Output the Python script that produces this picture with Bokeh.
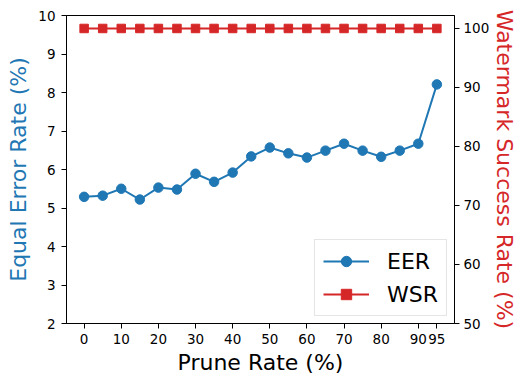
from bokeh.plotting import figure
from bokeh.models import Range1d, LinearAxis, FixedTicker, Legend, LegendItem
from bokeh.embed import file_html
from bokeh.resources import INLINE

prune_rate = [0, 5, 10, 15, 20, 25, 30, 35, 40, 45, 50, 55, 60, 65, 70, 75, 80, 85, 90, 95]
eer = [5.29, 5.32, 5.50, 5.22, 5.53, 5.48, 5.89, 5.68, 5.92, 6.34, 6.57, 6.42, 6.31, 6.49, 6.67, 6.49, 6.33, 6.49, 6.67, 8.21]
wsr = [100] * 20
x_ticks = [0, 10, 20, 30, 40, 50, 60, 70, 80, 90, 95]
left_ticks = [2, 3, 4, 5, 6, 7, 8, 9, 10]
right_ticks = [50, 60, 70, 80, 90, 100]

BLUE = "#1f77b4"
RED = "#d62728"
FONT = "DejaVu Sans"

p = figure(frame_width=388, frame_height=308, output_backend="svg", toolbar_location=None,
           x_range=Range1d(-4.75, 99.75), y_range=Range1d(2, 10),
           min_border_left=66, min_border_right=74, min_border_top=15, min_border_bottom=62)
p.extra_y_ranges = {"wsr": Range1d(50, 102.2)}
p.grid.visible = False
p.outline_line_color = "black"
p.outline_line_width = 1
p.background_fill_color = "white"
p.border_fill_color = "white"

def style_axis(ax, label, color):
    ax.axis_label = label
    ax.axis_label_text_color = color
    ax.axis_label_text_font = FONT
    ax.axis_label_text_font_size = "22px"
    ax.axis_label_text_font_style = "normal"
    ax.major_label_text_font = FONT
    ax.major_label_text_font_size = "13.5px"
    ax.major_label_text_color = "black"
    ax.major_tick_out = 5
    ax.major_tick_in = 0
    ax.minor_tick_out = 0
    ax.minor_tick_in = 0
    ax.axis_line_color = "black"
    ax.major_tick_line_color = "black"

xa = p.xaxis[0]
xa.ticker = FixedTicker(ticks=x_ticks)
style_axis(xa, "Prune Rate (%)", "black")
xa.axis_label_standoff = 3
xa.major_label_standoff = 5

ya = p.yaxis[0]
ya.ticker = FixedTicker(ticks=left_ticks)
style_axis(ya, "Equal Error Rate (%)", BLUE)
ya.axis_label_standoff = 4
ya.major_label_standoff = 6

ra = LinearAxis(y_range_name="wsr", ticker=FixedTicker(ticks=right_ticks))
style_axis(ra, "Watermark Success Rate (%)", RED)
ra.axis_label_standoff = 0
ra.major_label_standoff = 4
p.add_layout(ra, "right")

l1 = p.line(prune_rate, eer, line_color=BLUE, line_width=2)
s1 = p.scatter(prune_rate, eer, marker="circle", size=9.5, fill_color=BLUE, line_color=BLUE)
l2 = p.line(prune_rate, wsr, line_color=RED, line_width=2, y_range_name="wsr")
s2 = p.scatter(prune_rate, wsr, marker="square", size=8.5, fill_color=RED, line_color=RED, y_range_name="wsr")

legend = Legend(items=[LegendItem(label="EER", renderers=[l1, s1]),
                       LegendItem(label="WSR", renderers=[l2, s2])],
                location="bottom_right")
legend.label_text_font = FONT
legend.label_text_font_size = "22px"
legend.label_text_color = "black"
legend.glyph_width = 46
legend.glyph_height = 26
legend.label_standoff = 18
legend.spacing = 7
legend.padding = 8
legend.margin = 7
legend.border_line_color = "#cccccc"
legend.border_line_width = 1
legend.background_fill_alpha = 0.8
p.add_layout(legend, "center")

open("out.html", "w").write(file_html(p, INLINE))
